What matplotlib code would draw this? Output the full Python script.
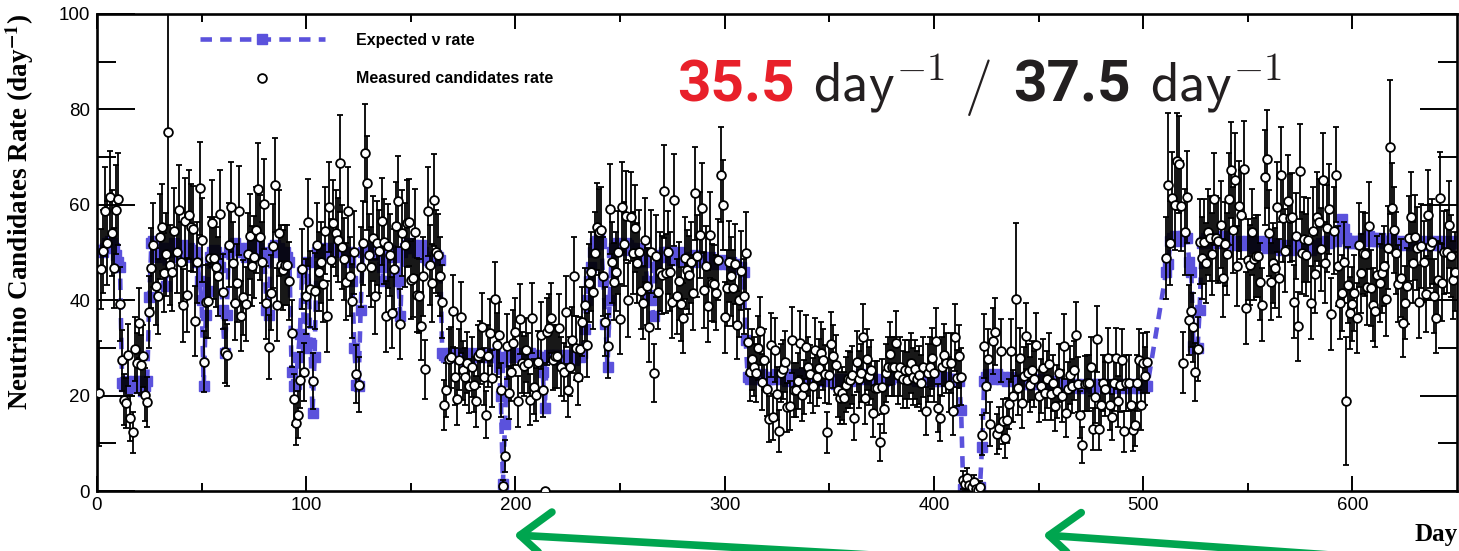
import numpy as np
import matplotlib
matplotlib.use('Agg')
import matplotlib.pyplot as plt
from matplotlib.lines import Line2D
from matplotlib.patches import FancyArrowPatch

# ---------------- data ----------------
# first day of each data segment (days 503-510 have no data)
seg_starts = [1, 101, 201, 301, 401, 511]

meas_1 = [20.5, 46.5, 50.3, 58.6, 52.0, 61.7, 54.0, 46.7, 59.0, 61.2,
          39.2, 27.4, 19.1, 18.5, 28.5, 15.3, 12.3, 29.7, 26.8, 35.2,
          26.4, 28.3, 20.2, 18.6, 37.5, 46.7, 51.5, 42.9, 40.8, 53.3,
          55.3, 45.8, 49.6, 75.2, 47.4, 46.0, 54.5, 50.2, 59.0, 48.0,
          38.9, 56.5, 41.1, 57.9, 55.3, 54.9, 35.7, 48.0, 63.5, 52.6,
          27.1, 39.7, 39.9, 48.8, 56.1, 48.8, 47.0, 45.0, 58.0, 41.8,
          29.2, 28.5, 51.6, 59.6, 47.9, 39.4, 43.6, 58.8, 36.7, 40.6,
          39.2, 49.7, 53.4, 47.2, 49.0, 54.7, 63.3, 53.2, 48.0, 60.2,
          39.5, 30.1, 41.6, 51.3, 64.2, 39.0, 54.0, 47.4, 46.3, 47.4,
          47.4, 44.0, 33.1, 19.2, 14.2, 16.0, 23.3, 46.5, 25.0, 40.8]
meas_2 = [56.3, 42.3, 23.0, 42.0, 51.6, 46.0, 48.0, 43.4, 54.6, 36.6,
          59.6, 48.5, 56.1, 54.0, 52.6, 68.7, 51.1, 48.6, 43.9, 58.6,
          45.0, 39.9, 50.0, 24.6, 22.3, 47.0, 52.0, 70.8, 64.5, 49.5,
          47.0, 53.0, 40.8, 52.0, 50.3, 56.5, 52.3, 36.6, 51.3, 49.5,
          37.4, 46.5, 55.6, 60.7, 35.0, 54.0, 51.6, 56.1, 56.3, 44.3,
          44.6, 54.2, 41.1, 40.9, 34.6, 45.0, 25.5, 58.6, 47.4, 43.6,
          61.0, 50.2, 49.5, 45.0, 39.7, 18.1, 21.2, 27.6, 28.0, 37.8,
          24.0, 19.2, 27.5, 36.4, 25.3, 24.0, 26.9, 22.0, 26.0, 22.3,
          18.8, 28.3, 29.0, 34.3, 24.0, 16.0, 28.3, 33.2, 23.6, 40.2,
          30.6, 32.7, 21.2, 1.1, 7.4, 30.3, 20.6, 25.0, 31.1, 33.4]
meas_3 = [18.8, 36.0, 26.9, 26.2, 29.6, 26.8, 19.1, 36.2, 21.9, 20.2,
          27.1, 32.6, 21.2, 0.0, 33.4, 34.1, 36.2, 27.5, 28.2, 28.2,
          34.1, 26.1, 25.0, 37.6, 21.1, 26.1, 31.7, 45.0, 30.0, 24.0,
          29.7, 35.5, 39.0, 30.6, 43.6, 46.0, 41.8, 49.9, 55.4, 54.2,
          54.7, 45.0, 35.5, 30.4, 59.1, 48.0, 43.9, 46.0, 50.0, 36.0,
          59.6, 51.8, 57.7, 40.1, 57.5, 49.9, 55.1, 47.8, 50.2, 42.0,
          39.5, 52.6, 42.9, 34.3, 50.2, 24.8, 49.2, 41.8, 46.0, 45.3,
          62.8, 45.7, 50.0, 46.0, 39.7, 61.0, 40.8, 44.0, 39.2, 36.2,
          48.8, 46.4, 45.3, 48.0, 41.6, 62.4, 49.2, 53.7, 59.3, 42.2,
          47.1, 38.8, 53.7, 43.7, 43.4, 41.6, 48.5, 66.3, 60.0, 36.4]
meas_4 = [42.5, 48.1, 45.0, 42.5, 47.6, 34.8, 40.1, 46.2, 40.8, 49.9,
          31.3, 25.0, 27.6, 26.1, 24.7, 30.0, 33.5, 22.8, 27.5, 21.3,
          15.1, 30.6, 15.6, 29.6, 20.4, 12.6, 24.7, 25.5, 27.1, 17.6,
          17.9, 31.7, 21.2, 21.2, 23.0, 31.0, 20.2, 21.8, 30.1, 26.1,
          24.6, 22.1, 29.6, 23.9, 25.7, 28.9, 27.5, 24.5, 12.3, 24.3,
          30.8, 28.2, 26.4, 21.1, 19.5, 20.5, 19.5, 22.3, 23.4, 23.2,
          24.3, 15.4, 27.1, 23.4, 24.8, 32.2, 19.5, 27.6, 24.1, 25.4,
          16.3, 21.6, 21.6, 10.2, 21.9, 17.2, 24.8, 26.1, 28.8, 26.1,
          26.1, 31.0, 24.3, 26.1, 23.4, 25.4, 23.3, 25.4, 26.8, 24.0,
          25.5, 23.5, 24.3, 22.6, 26.0, 16.7, 24.7, 26.1, 27.8, 24.7]
meas_5 = [31.5, 17.4, 15.3, 26.1, 28.5, 26.8, 22.3, 26.8, 16.7, 32.2,
          23.7, 28.2, 24.0, 2.3, 1.5, 2.8, 1.2, 0.8, 1.8, 0.5,
          0.3, 0.9, 11.8, 30.4, 22.0, 27.6, 14.1, 31.5, 33.4, 12.0,
          13.2, 29.4, 14.6, 11.1, 14.8, 18.3, 29.4, 19.9, 40.2, 21.6,
          27.8, 18.5, 24.1, 32.5, 24.8, 22.3, 25.3, 23.5, 30.6, 19.9,
          22.0, 25.7, 20.5, 23.4, 26.7, 20.4, 22.6, 17.8, 20.9, 24.8,
          19.9, 30.3, 16.3, 21.3, 24.3, 22.0, 25.3, 32.7, 22.4, 16.0,
          9.7, 22.5, 22.6, 22.6, 26.1, 13.0, 19.7, 31.8, 13.0, 18.1,
          22.7, 21.3, 27.8, 18.0, 15.5, 22.6, 27.8, 18.8, 22.3, 27.5,
          12.5, 22.7, 22.6, 18.1, 12.7, 13.9, 22.7, 27.5, 18.1, 26.8,
          24.1, 27.0]
meas_6 = [48.8, 64.2, 52.0, 61.4, 60.0, 69.1, 68.5, 59.8, 26.9, 54.2,
          61.7, 35.9, 37.8, 34.3, 25.0, 29.7, 52.3, 48.8, 52.3, 47.8,
          54.2, 53.0, 49.7, 61.2, 53.0, 52.5, 55.8, 44.6, 51.8, 49.7,
          61.2, 67.3, 54.7, 65.1, 47.2, 59.8, 57.9, 67.5, 38.3, 48.5,
          47.4, 54.2, 48.6, 49.2, 49.3, 43.9, 39.0, 65.8, 69.6, 54.0,
          43.9, 47.8, 46.7, 59.6, 44.6, 66.3, 57.2, 50.4, 60.9, 57.2,
          57.4, 39.7, 53.5, 34.5, 67.0, 49.9, 52.8, 49.5, 52.6, 39.5,
          54.6, 45.5, 57.5, 56.3, 50.7, 65.2, 47.9, 55.1, 59.1, 37.1,
          54.6, 66.3, 47.1, 39.5, 41.5, 48.0, 18.8, 43.2, 37.3, 39.2,
          41.5, 36.2, 51.6, 45.7, 49.9, 49.6, 42.7, 55.6, 42.5, 39.0,
          37.8, 45.3, 43.6, 45.6, 47.2, 40.2, 51.0, 72.1, 59.3, 54.7,
          49.9, 43.4, 44.6, 35.3, 39.5, 43.0, 53.0, 57.5, 47.9, 53.2,
          50.9, 39.7, 51.3, 48.1, 41.3, 57.9, 51.3, 52.3, 40.9, 36.2,
          44.3, 61.5, 43.7, 50.0, 50.2, 55.8, 49.2, 44.3, 46.0]

exp_1 = [50.5, 50.5, 50.0, 51.0, 52.0, 52.5, 52.0, 51.0, 49.5, 48.0,
         47.0, 22.6, 22.0, 23.0, 22.0, 21.5, 22.0, 23.0, 22.5, 23.0,
         22.0, 21.0, 22.0, 23.0, 40.7, 52.0, 52.5, 50.0, 49.0, 51.0,
         51.0, 50.0, 43.0, 50.0, 51.0, 50.5, 52.0, 51.0, 49.0, 50.0,
         51.5, 50.0, 49.0, 51.0, 50.5, 49.5, 50.0, 48.0, 44.0, 40.0,
         22.0, 37.0, 42.0, 49.0, 50.0, 50.5, 50.0, 49.0, 47.0, 38.0,
         29.0, 37.0, 50.0, 51.0, 51.5, 52.0, 50.5, 51.0, 50.0, 50.5,
         49.0, 51.0, 50.0, 51.5, 52.0, 50.5, 51.0, 50.0, 49.5, 49.0,
         38.0, 37.0, 50.0, 51.0, 51.5, 50.5, 51.0, 50.0, 49.5, 50.0,
         49.0, 48.0, 25.0, 22.0, 22.5, 28.0, 33.0, 46.0, 32.0, 30.0]
exp_2 = [48.0, 31.0, 16.3, 28.0, 50.0, 50.5, 51.0, 50.0, 49.5, 50.0,
         51.0, 50.5, 50.0, 51.0, 52.0, 51.0, 50.5, 50.0, 49.5, 50.0,
         48.0, 44.0, 30.0, 22.3, 22.0, 38.0, 50.0, 50.5, 50.5, 51.0,
         50.5, 50.0, 49.5, 50.0, 50.5, 47.0, 44.0, 49.0, 50.0, 50.5,
         50.0, 49.0, 46.0, 44.0, 36.6, 50.0, 51.0, 51.5, 52.0, 51.0,
         51.5, 51.0, 50.0, 51.0, 51.5, 50.0, 49.0, 48.5, 48.0, 48.5,
         49.0, 49.5, 49.0, 48.5, 29.0, 28.5, 28.0, 28.5, 29.0, 28.0,
         28.5, 28.0, 29.0, 28.5, 28.0, 27.5, 28.5, 29.0, 28.0, 28.5,
         28.0, 28.5, 29.0, 28.5, 28.0, 28.5, 28.0, 28.5, 29.0, 28.5,
         28.0, 26.0, 20.0, 1.5, 14.0, 28.0, 28.5, 29.0, 28.5, 28.0]
exp_3 = [28.5, 29.0, 28.0, 28.5, 28.0, 28.5, 29.0, 28.5, 28.0, 28.5,
         28.0, 27.0, 25.0, 17.5, 28.0, 28.5, 28.0, 28.5, 28.0, 28.5,
         28.0, 27.5, 28.0, 28.5, 28.0, 28.5, 28.0, 27.5, 28.0, 28.5,
         28.0, 29.0, 34.0, 40.0, 44.0, 47.0, 50.0, 52.0, 52.5, 53.0,
         52.0, 44.0, 35.0, 26.0, 40.0, 50.0, 51.0, 51.5, 52.0, 51.0,
         50.5, 51.0, 52.0, 51.5, 51.0, 50.5, 50.0, 51.0, 50.5, 50.0,
         49.5, 48.0, 44.0, 41.0, 40.0, 36.6, 47.0, 49.0, 49.5, 49.0,
         50.0, 49.5, 50.0, 49.0, 48.5, 49.0, 49.5, 50.0, 49.0, 48.5,
         49.0, 48.5, 48.0, 48.5, 49.0, 49.5, 48.5, 48.0, 49.0, 48.5,
         48.0, 48.5, 49.0, 48.5, 48.0, 47.5, 48.0, 48.5, 48.0, 47.5]
exp_4 = [48.0, 47.5, 48.0, 47.0, 47.5, 47.0, 46.5, 47.0, 46.0, 31.7,
         24.0, 23.5, 24.0, 23.5, 24.0, 23.5, 24.0, 24.5, 24.0, 23.5,
         23.5, 24.0, 23.5, 24.0, 24.5, 24.0, 23.5, 24.0, 23.5, 23.0,
         23.5, 24.0, 24.5, 24.0, 23.5, 24.0, 24.5, 24.0, 23.5, 24.0,
         23.5, 23.0, 23.5, 24.0, 23.5, 23.0, 23.5, 24.0, 23.5, 23.0,
         23.5, 23.0, 22.5, 23.0, 23.5, 23.0, 22.5, 23.0, 23.5, 23.0,
         23.5, 24.0, 23.5, 24.0, 24.5, 24.0, 23.5, 24.0, 23.5, 24.0,
         23.5, 23.0, 23.5, 23.0, 22.5, 23.0, 23.5, 24.0, 23.5, 24.0,
         24.5, 24.0, 24.5, 25.0, 24.5, 24.0, 24.5, 24.0, 23.5, 24.0,
         23.5, 23.0, 23.5, 23.0, 23.5, 24.0, 23.5, 23.0, 23.5, 23.0]
exp_5 = [23.5, 24.0, 23.5, 23.0, 23.5, 24.0, 23.5, 23.0, 23.5, 23.0,
         23.5, 23.0, 17.0, 0.5, 0.3, 0.5, 0.3, 0.2, 0.4, 0.3,
         0.5, 0.8, 9.3, 23.0, 24.0, 24.5, 24.0, 23.5, 24.0, 24.5,
         24.0, 23.5, 24.0, 23.5, 23.0, 23.5, 24.0, 23.5, 23.0, 23.5,
         23.0, 22.5, 23.0, 23.5, 23.0, 22.5, 23.0, 22.5, 23.0, 23.5,
         23.0, 22.5, 22.0, 22.5, 23.0, 22.5, 22.0, 22.5, 23.0, 22.5,
         22.0, 22.5, 22.0, 21.5, 22.0, 22.5, 22.0, 22.5, 22.0, 21.5,
         22.0, 22.5, 22.0, 22.5, 22.0, 21.5, 22.0, 22.5, 22.0, 22.5,
         22.0, 21.5, 22.0, 22.5, 22.0, 21.5, 22.0, 22.5, 22.0, 21.5,
         22.0, 22.5, 22.0, 21.5, 22.0, 22.5, 22.0, 21.5, 22.0, 22.5,
         22.0, 22.0]
exp_6 = [46.0, 47.5, 52.5, 53.0, 53.5, 53.0, 52.5, 53.0, 53.5, 53.0,
         53.0, 48.0, 46.0, 30.5, 30.0, 30.0, 38.0, 52.0, 52.5, 53.0,
         52.0, 52.5, 53.0, 52.5, 52.0, 52.5, 53.0, 53.5, 53.0, 52.5,
         52.0, 52.5, 52.0, 51.5, 52.0, 52.5, 52.0, 51.5, 52.0, 52.5,
         52.0, 51.5, 51.0, 51.5, 52.0, 52.5, 52.0, 51.5, 51.0, 51.5,
         52.0, 51.5, 51.0, 51.5, 51.0, 50.5, 51.0, 51.5, 51.0, 50.5,
         51.0, 51.5, 52.0, 51.5, 51.0, 50.5, 51.0, 51.5, 51.0, 50.5,
         51.0, 51.5, 51.0, 51.5, 52.0, 51.5, 52.0, 52.5, 52.0, 52.5,
         53.0, 52.5, 53.0, 54.0, 57.0, 55.0, 53.0, 52.5, 52.0, 52.5,
         52.0, 52.5, 52.0, 52.5, 53.0, 52.5, 53.0, 53.5, 53.0, 52.5,
         53.0, 52.5, 53.0, 52.5, 52.0, 52.5, 52.0, 52.5, 53.0, 52.5,
         52.0, 51.5, 52.0, 52.5, 52.0, 51.5, 52.0, 51.5, 52.0, 52.5,
         52.0, 52.5, 52.0, 51.5, 52.0, 52.5, 52.0, 51.5, 52.0, 52.5,
         52.0, 51.5, 52.0, 52.5, 52.0, 51.5, 52.0, 52.5, 52.0]

# statistical (Poisson-like) uncertainty scale, with a few larger bars read directly
err_scale = 1.5
err_override = {1: 11.0, 34: 26.0, 439: 16.0, 512: 15.0, 597: 13.4, 618: 14.0}

x_ticks = [0, 100, 200, 300, 400, 500, 600]
y_ticks = [0, 20, 40, 60, 80, 100]

rate_text = [("35.5", "#e8202a"), ("37.5", "#231f20")]

# ---------------- build arrays ----------------
meas_segs = [meas_1, meas_2, meas_3, meas_4, meas_5, meas_6]
exp_segs = [exp_1, exp_2, exp_3, exp_4, exp_5, exp_6]
for m, e in zip(meas_segs, exp_segs):
    assert len(m) == len(e), (len(m), len(e))
days = np.concatenate([np.arange(s, s + len(m)) for s, m in zip(seg_starts, meas_segs)])
measured = np.concatenate([np.array(m, float) for m in meas_segs])
expected = np.concatenate([np.array(e, float) for e in exp_segs])
errors = np.sqrt(err_scale * measured)
for d, v in err_override.items():
    errors[days == d] = v

# ---------------- figure ----------------
W, H = 1459, 551
fig = plt.figure(figsize=(W / 100, H / 100), dpi=100)
ax = fig.add_axes([97 / W, 60 / H, (1457 - 97) / W, (491 - 14) / H])

blue = '#5b52dc'
ax.plot(days, expected, ls=(0, (2.5, 1.8)), lw=3.3, color=blue,
        marker='s', ms=7.5, mfc=blue, mec=blue, zorder=2)
ax.errorbar(days, measured, yerr=errors, fmt='o', ms=6.3, mfc='white', mec='black',
            mew=1.3, ecolor='black', elinewidth=1.3, capsize=2.5, capthick=1.3, zorder=3)

ax.set_xlim(0, 650)
ax.set_ylim(0, 100)
ax.set_xticks(x_ticks)
ax.set_xticks(np.arange(50, 650, 100), minor=True)
ax.set_yticks(y_ticks)
ax.set_yticks(np.arange(10, 100, 20), minor=True)

tick_font = dict(family=['Liberation Sans', 'DejaVu Sans'], size=13.5)
ax.set_xticklabels([str(t) for t in x_ticks], **tick_font)
ax.set_yticklabels([str(t) for t in y_ticks], **tick_font)
ax.tick_params(axis='both', which='both', direction='in', top=True, right=True, width=1.4)
ax.tick_params(axis='y', which='major', length=27, pad=5)
ax.tick_params(axis='y', which='minor', length=14)
ax.tick_params(axis='x', which='major', length=10.5, pad=4)
ax.tick_params(axis='x', which='minor', length=5.5)
for sp in ax.spines.values():
    sp.set_linewidth(1.9)

# axis titles
fig.text(20 / W, 1 - 14 / H, r'Neutrino Candidates Rate (day$^{\mathbf{-1}}$)', rotation=90,
         ha='center', va='top', family=['Liberation Serif', 'DejaVu Serif'],
         weight='bold', size=19.5, math_fontfamily='stix')
fig.text(1458 / W, 1 - 541 / H, 'Day', ha='right', va='baseline',
         family=['Liberation Serif', 'DejaVu Serif'], weight='bold', size=18)

# legend
h_exp = Line2D([], [], ls=(0, (2.5, 1.8)), lw=3.3, color=blue, marker='s', ms=7.5,
               mfc=blue, mec=blue)
h_meas = Line2D([], [], ls='none', marker='o', ms=6.3, mfc='white', mec='black', mew=1.3)
leg = ax.legend([h_exp, h_meas], ['Expected \u03bd rate', 'Measured candidates rate'],
                loc='upper left', bbox_to_anchor=(0.0757, 0.96), frameon=False,
                numpoints=1, handlelength=7.8, handletextpad=2.0, labelspacing=1.45,
                borderpad=0, borderaxespad=0,
                prop=dict(family=['Liberation Sans', 'DejaVu Sans'], weight='bold', size=11.5))

# big rate text
bold_fam = ['Liberation Sans Narrow', 'Roboto', 'DejaVu Sans']
yb = 1 - 102 / H
fig.text(677 / W, yb, rate_text[0][0], color=rate_text[0][1], family=bold_fam,
         weight='bold', size=42, va='baseline')
fig.text(813 / W, yb, r'$\mathsf{day}^{\mathsf{-1}}$', color='#231f20', size=40,
         va='baseline', math_fontfamily='cm')
fig.text(964 / W, yb, r'$\mathsf{/}$', color='#231f20', size=40, va='baseline',
         math_fontfamily='cm')
fig.text(1013 / W, yb, rate_text[1][0], color=rate_text[1][1], family=bold_fam,
         weight='bold', size=42, va='baseline')
fig.text(1150 / W, yb, r'$\mathsf{day}^{\mathsf{-1}}$', color='#231f20', size=40,
         va='baseline', math_fontfamily='cm')

# green arrows
green = '#00a54f'
for tail, tip in [((890, 556), (514, 535)), ((1345, 556), (1043, 535))]:
    arr = FancyArrowPatch(posA=(tail[0] / W, 1 - tail[1] / H), posB=(tip[0] / W, 1 - tip[1] / H),
                          transform=fig.transFigure, arrowstyle='->,head_length=0.55,head_width=0.45',
                          mutation_scale=40, lw=5.5, color=green, shrinkA=0, shrinkB=0,
                          joinstyle='round', capstyle='round')
    fig.add_artist(arr)

fig.savefig('out.png', dpi=100)
